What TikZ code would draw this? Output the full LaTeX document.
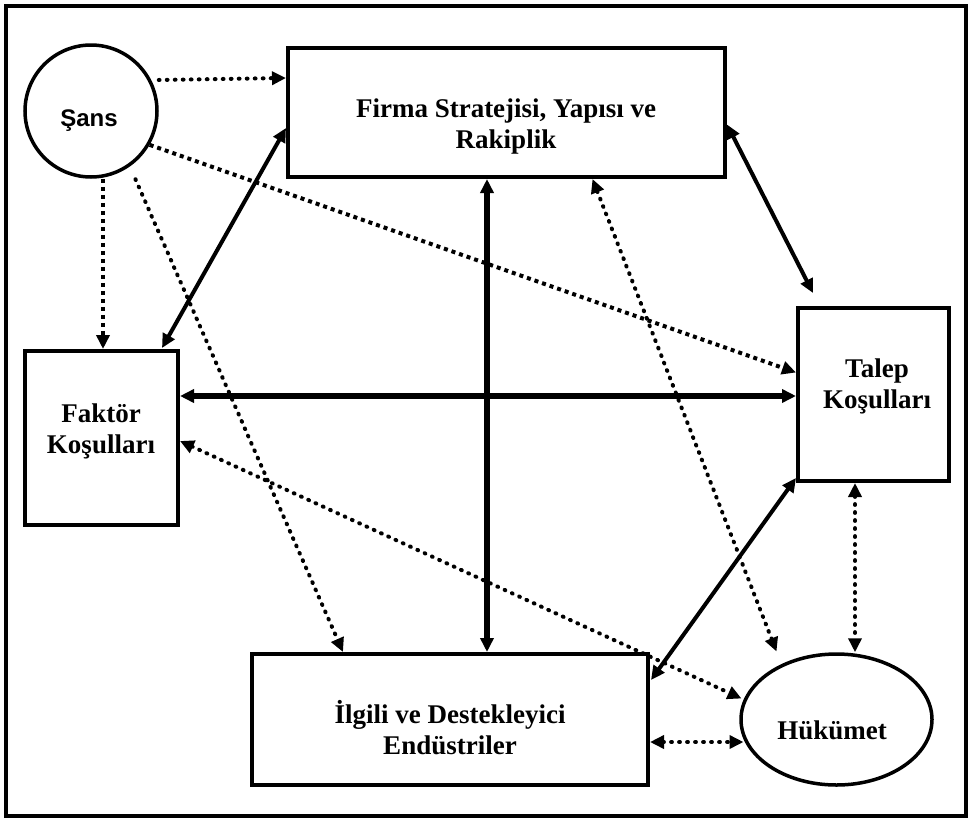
\documentclass[tikz,border=0pt]{standalone}
\usepackage{fontspec}
\setmainfont{Liberation Serif}
\newfontfamily\arialfont{Liberation Sans}
\usetikzlibrary{arrows.meta,shapes.geometric,calc}
\begin{document}
\begin{tikzpicture}[x=1pt,y=-1pt,
  >={Triangle[length=14pt,width=13pt]},
  box/.style={draw,line width=4pt,rectangle,inner sep=0pt},
  lbl/.style={font=\fontsize{27}{31}\selectfont\bfseries,align=center,anchor=base,inner sep=0pt},
  rdot/.style={line width=4pt,line cap=round,dash pattern=on 0.8pt off 7.2pt},
  sdot/.style={line width=4pt,dash pattern=on 4pt off 4pt},
  solidln/.style={line width=4pt},
  heavyln/.style={line width=5.5pt}]
\useasboundingbox (0,0) rectangle (971,822);
\draw[line width=4pt] (6,6) rectangle (966,816);

% nodes
\node[draw,circle,line width=3.5pt,minimum size=132pt,inner sep=0pt] (sans) at (91,111) {};
\node[inner sep=0pt,anchor=base,font=\arialfont\bfseries\fontsize{24}{28}\selectfont] (sanst) at (89,126) {Şans};
\node[box,minimum width=437pt,minimum height=129pt] (firma) at (506.5,112.5) {};
\node[lbl] (firmat) at (506,148) {Firma Stratejisi, Yapısı ve\\Rakiplik};
\node[box,minimum width=153pt,minimum height=174pt] (faktor) at (101.5,438) {};
\node[lbl] (faktort) at (101,453) {Faktör\\Koşulları};
\node[box,minimum width=151pt,minimum height=173pt] (talep) at (873.5,394.5) {};
\node[lbl] (talept) at (877,408) {Talep\\Koşulları};
\node[box,minimum width=396pt,minimum height=131pt] (ilgili) at (450,719.5) {};
\node[lbl] (ilgilit) at (450,754) {İlgili ve Destekleyici\\Endüstriler};
\node[draw,ellipse,line width=3.5pt,minimum width=191pt,minimum height=131pt,inner sep=0pt] (hukumet) at (836.5,719.5) {};
\node[lbl] (hukumett) at (832,739) {Hükümet};

% chance connectors
\draw[rdot,->] ($(sans.east)+(0,-31)$) -- ($(firma.north west)+(0,32)$);
\draw[sdot,->] (sans.-30) -- ($(talep.west)+(0,-22)$);
\draw[sdot,->] ($(sans.south)+(12,0)$) -- ($(faktor.north)+(1.5,0)$);
\draw[rdot,->,shorten <=14pt] (sans.-55) -- ($(ilgili.north west)+(93,0)$);

% solid connectors
\draw[solidln,<->] ($(firma.west)+(0,15.5)$) -- ($(faktor.north east)+(-18,-1)$);
\draw[heavyln,<->] ($(firma.south)+(-19.5,0)$) -- ($(ilgili.north)+(37,0)$);
\draw[solidln,<->] ($(firma.east)+(0,12)$) -- ($(talep.north west)+(17,-13)$);
\draw[heavyln,<->] ($(faktor.east)+(0,-42)$) -- ($(talep.west)+(0,1.5)$);
\draw[solidln,<->] ($(talep.south west)+(0,-5)$) -- ($(ilgili.north east)+(1,28)$);

% government connectors
\draw[rdot,<->] ($(firma.south)+(86,0)$) -- ($(hukumet.center)+(-60,-68)$);
\draw[rdot,<->] ($(faktor.east)+(0,3)$) -- ($(hukumet.center)+(-95,-21)$);
\draw[rdot,<->] ($(talep.south)+(-18.5,0)$) -- ($(hukumet.north)+(18.5,0)$);
\draw[rdot,<->] ($(ilgili.east)+(0,22.5)$) -- ($(hukumet.center)+(-93,22.5)$);
\end{tikzpicture}
\end{document}
